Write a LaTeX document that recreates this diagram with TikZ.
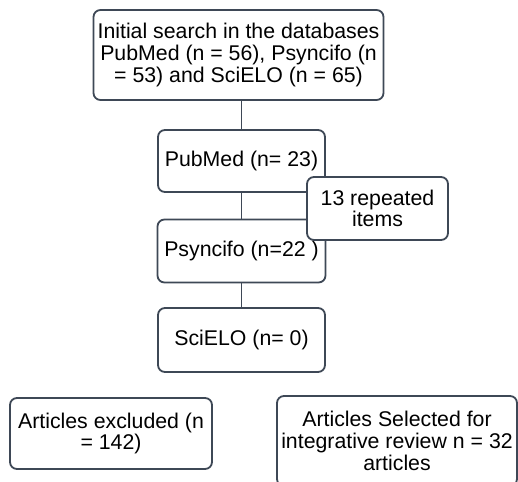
\documentclass[tikz,border=0pt]{standalone}
\usepackage{fontspec}
\setmainfont{Liberation Sans}
\usetikzlibrary{positioning}
\definecolor{boxline}{RGB}{62,72,86}

\begin{document}
\begin{tikzpicture}[x=1pt, y=-1pt, box/.style={draw=boxline, line width=1.8pt,
		rounded corners=7pt, fill=white, inner sep=0pt, align=center,
		font=\fontsize{21.3}{21.7}\selectfont}]
	\useasboundingbox (0,0) rectangle (518,481);
	\node[box, minimum width=290, minimum height=90] (init) at (238.5,55)
		{Initial search in the databases\\ PubMed (n = 56), Psyncifo (n\\ = 53) and SciELO (n = 65)};
	\node[box, minimum width=167, minimum height=62] (pubmed) at (241.5,161) {PubMed (n= 23)};
	\node[box, minimum width=168, minimum height=63] (psyncifo) at (241.5,251) {Psyncifo (n=22 )};
	\node[box, minimum width=167, minimum height=64] (scielo) at (241.5,340) {SciELO (n= 0)};
	\draw[boxline, line width=1.8pt] (pubmed.north) -- (pubmed.north |- init.south);
	\draw[boxline, line width=1.8pt] (pubmed) -- (psyncifo);
	\draw[boxline, line width=1.8pt] (psyncifo) -- (scielo);
	\node[box, minimum width=141, minimum height=63] (repeated) at (377.5,208.5) {13 repeated\\items};
	\node[box, minimum width=202, minimum height=71] (excluded) at (111,433.5) {Articles excluded (n\\= 142)};
	\node[box, minimum width=240, minimum height=90] (selected) at (397,441)
		{Articles Selected for\\integrative review n = 32\\articles};
\end{tikzpicture}
\end{document}
